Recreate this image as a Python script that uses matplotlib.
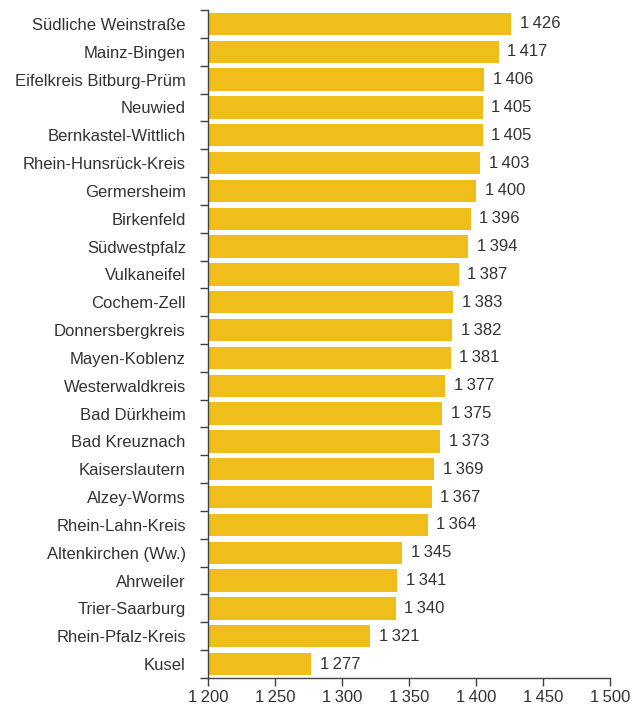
import matplotlib
matplotlib.use("Agg")
import matplotlib.pyplot as plt
import numpy as np

districts = ["Südliche Weinstraße", "Mainz-Bingen", "Eifelkreis Bitburg-Prüm", "Neuwied",
             "Bernkastel-Wittlich", "Rhein-Hunsrück-Kreis", "Germersheim", "Birkenfeld",
             "Südwestpfalz", "Vulkaneifel", "Cochem-Zell", "Donnersbergkreis", "Mayen-Koblenz",
             "Westerwaldkreis", "Bad Dürkheim", "Bad Kreuznach", "Kaiserslautern", "Alzey-Worms",
             "Rhein-Lahn-Kreis", "Altenkirchen (Ww.)", "Ahrweiler", "Trier-Saarburg",
             "Rhein-Pfalz-Kreis", "Kusel"]
values = [1426, 1417, 1406, 1405, 1405, 1403, 1400, 1396, 1394, 1387, 1383, 1382, 1381,
          1377, 1375, 1373, 1369, 1367, 1364, 1345, 1341, 1340, 1321, 1277]
xticks = [1200, 1250, 1300, 1350, 1400, 1450, 1500]

def fmt(v):
    return f"{v:,}".replace(",", "\u2009")

plt.rcParams['font.family'] = ['Liberation Sans', 'DejaVu Sans']
text_color = "#333333"
axis_color = "#404040"
fs = 12

fig = plt.figure(figsize=(6.41, 7.06), dpi=100)
ax = fig.add_axes([0.3245, 0.0397, 0.9516 - 0.3245, 0.9858 - 0.0397])

y = np.arange(len(districts))
base = 1200
ax.barh(y, [v - base for v in values], left=base, height=0.8, color="#F0BE1A", zorder=2)
for yi, v in zip(y, values):
    ax.text(v + 6.5, yi, fmt(v), va="center", ha="left", fontsize=fs, color=text_color)

ax.set_xlim(1200, 1500)
ax.set_ylim(len(districts) - 0.5, -0.5)

ax.set_xticks(xticks)
ax.set_xticklabels([fmt(t) for t in xticks], fontsize=fs, color=text_color)
ax.set_yticks(np.arange(-0.5, len(districts), 1))
ax.set_yticklabels([])
ax.set_yticks(y, minor=True)
ax.set_yticklabels(districts, minor=True, fontsize=fs, color=text_color)
ax.tick_params(axis="y", which="minor", length=0, pad=16)
ax.tick_params(axis="y", which="major", length=6, width=1, color=axis_color, direction="out")
ax.tick_params(axis="x", length=6, width=1, color=axis_color, direction="out", pad=3)

for s in ["top", "right"]:
    ax.spines[s].set_visible(False)
for s in ["left", "bottom"]:
    ax.spines[s].set_color(axis_color)
    ax.spines[s].set_linewidth(1)

fig.savefig("out.png", dpi=100)
